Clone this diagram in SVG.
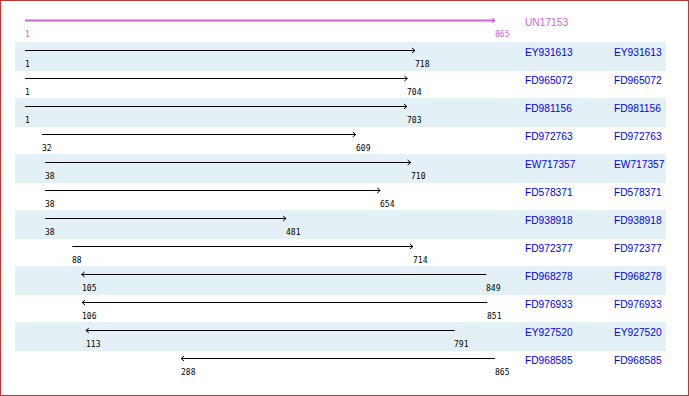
<svg xmlns="http://www.w3.org/2000/svg" width="690" height="396" viewBox="0 0 690 396">
<defs>
<marker id="ah" markerUnits="userSpaceOnUse" markerWidth="6" markerHeight="8" refX="3.5" refY="3" orient="auto" overflow="visible">
<path d="M0.5,0.5 L3.5,3 L0.5,5.5" fill="none" stroke="#000" stroke-width="1"/>
</marker>
<marker id="ahm" markerUnits="userSpaceOnUse" markerWidth="6" markerHeight="8" refX="3.5" refY="3" orient="auto" overflow="visible">
<path d="M0.5,0.5 L3.5,3 L0.5,5.5" fill="none" stroke="#cc66cc" stroke-width="1"/>
</marker>
</defs>
<style>
.stripe{fill:#e3f0f5}
.ln{stroke:#000;stroke-width:1;marker-end:url(#ah)}
.num{font-family:"DejaVu Sans Mono","Liberation Mono",monospace;font-size:8px;fill:#000}
.nm{font-family:"Liberation Sans",Arial,sans-serif;font-size:10.2px;fill:#0000f0}
</style>
<rect x="0" y="0" width="690" height="396" fill="#fff"/>
<rect x="0.5" y="0.5" width="688" height="395" fill="none" stroke="#c33333" stroke-width="1"/>
<g id="stripes">
<rect class="stripe" x="15" y="42" width="651" height="29"/>
<rect class="stripe" x="15" y="98" width="651" height="29"/>
<rect class="stripe" x="15" y="154" width="651" height="29"/>
<rect class="stripe" x="15" y="210" width="651" height="29"/>
<rect class="stripe" x="15" y="266" width="651" height="29"/>
<rect class="stripe" x="15" y="322" width="651" height="29"/>
</g>
<g id="UN17153">
<line x1="25" y1="20.5" x2="495" y2="20.5" stroke="#cc66cc" stroke-width="2" marker-end="url(#ahm)"/>
<text class="num" x="25" y="37" style="fill:#cc66cc">1</text>
<text class="num" x="495" y="37" style="fill:#cc66cc">865</text>
<text class="nm" x="525" y="26" style="fill:#cc66cc">UN17153</text>
</g>
<g id="connectors">
<line class="ln" x1="25" y1="50.5" x2="415" y2="50.5"/>
<line class="ln" x1="25" y1="78.5" x2="407.4" y2="78.5"/>
<line class="ln" x1="25" y1="106.5" x2="406.9" y2="106.5"/>
<line class="ln" x1="41.9" y1="134.5" x2="355.7" y2="134.5"/>
<line class="ln" x1="45.1" y1="162.5" x2="410.7" y2="162.5"/>
<line class="ln" x1="45.1" y1="190.5" x2="380.2" y2="190.5"/>
<line class="ln" x1="45.1" y1="218.5" x2="286.1" y2="218.5"/>
<line class="ln" x1="72.3" y1="246.5" x2="412.9" y2="246.5"/>
<line class="ln" x1="486.3" y1="274.5" x2="81.6" y2="274.5"/>
<line class="ln" x1="487.4" y1="302.5" x2="82.1" y2="302.5"/>
<line class="ln" x1="454.7" y1="330.5" x2="85.9" y2="330.5"/>
<line class="ln" x1="495" y1="358.5" x2="181.1" y2="358.5"/>
</g>
<g id="EY931613"><text class="num" x="25" y="67">1</text><text class="num" x="415" y="67">718</text><text class="nm" x="525" y="56">EY931613</text><text class="nm" x="614" y="56">EY931613</text></g>
<g id="FD965072"><text class="num" x="25" y="95">1</text><text class="num" x="407" y="95">704</text><text class="nm" x="525" y="84">FD965072</text><text class="nm" x="614" y="84">FD965072</text></g>
<g id="FD981156"><text class="num" x="25" y="123">1</text><text class="num" x="407" y="123">703</text><text class="nm" x="525" y="112">FD981156</text><text class="nm" x="614" y="112">FD981156</text></g>
<g id="FD972763"><text class="num" x="42" y="151">32</text><text class="num" x="356" y="151">609</text><text class="nm" x="525" y="140">FD972763</text><text class="nm" x="614" y="140">FD972763</text></g>
<g id="EW717357"><text class="num" x="45" y="179">38</text><text class="num" x="411" y="179">710</text><text class="nm" x="525" y="168">EW717357</text><text class="nm" x="614" y="168">EW717357</text></g>
<g id="FD578371"><text class="num" x="45" y="207">38</text><text class="num" x="380" y="207">654</text><text class="nm" x="525" y="196">FD578371</text><text class="nm" x="614" y="196">FD578371</text></g>
<g id="FD938918"><text class="num" x="45" y="235">38</text><text class="num" x="286" y="235">481</text><text class="nm" x="525" y="224">FD938918</text><text class="nm" x="614" y="224">FD938918</text></g>
<g id="FD972377"><text class="num" x="72" y="263">88</text><text class="num" x="413" y="263">714</text><text class="nm" x="525" y="252">FD972377</text><text class="nm" x="614" y="252">FD972377</text></g>
<g id="FD968278"><text class="num" x="82" y="291">105</text><text class="num" x="486" y="291">849</text><text class="nm" x="525" y="280">FD968278</text><text class="nm" x="614" y="280">FD968278</text></g>
<g id="FD976933"><text class="num" x="82" y="319">106</text><text class="num" x="487" y="319">851</text><text class="nm" x="525" y="308">FD976933</text><text class="nm" x="614" y="308">FD976933</text></g>
<g id="EY927520"><text class="num" x="86" y="347">113</text><text class="num" x="454" y="347">791</text><text class="nm" x="525" y="336">EY927520</text><text class="nm" x="614" y="336">EY927520</text></g>
<g id="FD968585"><text class="num" x="181" y="375">288</text><text class="num" x="495" y="375">865</text><text class="nm" x="525" y="364">FD968585</text><text class="nm" x="614" y="364">FD968585</text></g>
</svg>
